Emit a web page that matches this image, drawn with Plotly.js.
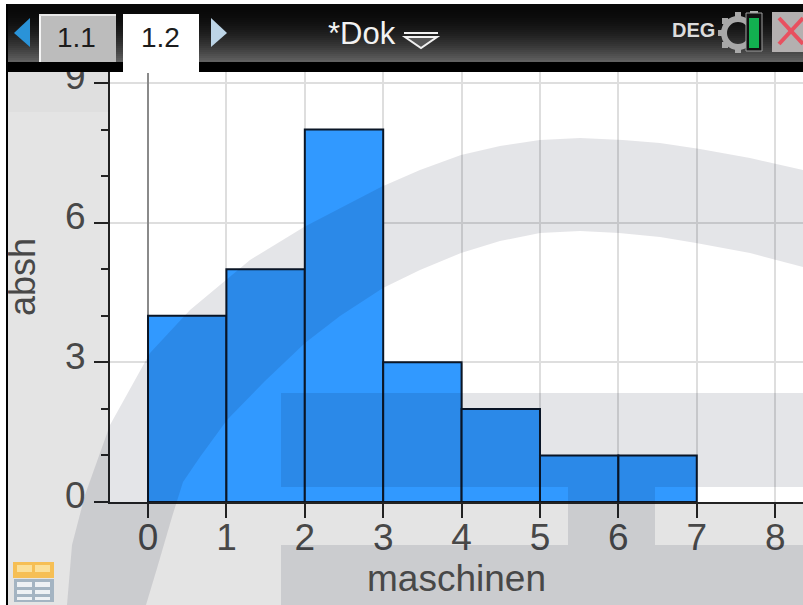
<!DOCTYPE html>
<html>
<head>
<meta charset="utf-8">
<script src="https://cdn.plot.ly/plotly-3.0.1.min.js"></script>
<style>html,body{margin:0;padding:0;background:#fff;overflow:hidden}#c{width:803px;height:605px}</style>
</head>
<body>
<div id="c"></div>
<script>
const binStarts = [0, 1, 2, 3, 4, 5, 6];
const counts = [4, 5, 8, 3, 2, 1, 1];
const xTickValues = [0, 1, 2, 3, 4, 5, 6, 7, 8];
const yTickValues = [0, 3, 6, 9];
const xTitle = 'maschinen';
const yTitle = '&nbsp;&nbsp;absh';

const W = 803, H = 605, L = 110, T = 72, B = 502, PW = W - L, PH = B - T;
const fx = x => (x - L) / PW;
const fy = y => (B - y) / PH;
const FONT = '"Liberation Sans", Arial, sans-serif';

function rect(x0, y0, x1, y1, fill, extra) {
  return Object.assign({type:'rect', xref:'paper', yref:'paper', layer:'above',
    x0:fx(x0), x1:fx(x1), y0:fy(y0), y1:fy(y1), fillcolor:fill, line:{width:0}}, extra||{});
}
function poly(pts, fill, line, close) {
  const d = pts.map((p,i)=>(i?'L':'M')+fx(p[0]).toFixed(5)+','+fy(p[1]).toFixed(5)).join(' ')+(close===false?'':' Z');
  return {type:'path', xref:'paper', yref:'paper', layer:'above', path:d,
    fillcolor:fill||'rgba(0,0,0,0)', line:line||{width:0}};
}
function circle(x0,y0,x1,y1,fill,line){
  return {type:'circle', xref:'paper', yref:'paper', layer:'above',
    x0:fx(x0),x1:fx(x1),y0:fy(y0),y1:fy(y1),fillcolor:fill,line:line};
}

// background watermark
const WM = 'rgba(0,12,40,0.105)';
const arcOuter = [[67,605],[72,545],[85,495],[110,425],[150,353],[190,310],[226,280],[250,260],[304,227],[381,187],[420,170],[461,155],[500,146],[540,140],[580,138],[623,140],[660,143],[700,149],[750,158],[803,170]];
const arcInner = [[803,267],[750,253],[696,243],[660,237],[619,233],[580,231],[540,233],[500,241],[461,253],[420,270],[383,288],[340,316],[305,343],[265,381],[227,420],[200,457],[183,482],[172,517],[158,565],[146,605]];
const watermark = [
  poly(arcOuter.concat(arcInner), WM),
  rect(281,393,803,487,WM),
  rect(568,487,655,545,WM),
  rect(281,545,803,605,WM)
];

// device chrome
const chrome = [];
chrome.push(rect(8,72,110,112,'rgba(0,0,0,0.02)'));
for (let y=4; y<62; y+=2) {
  const t=(y-4)/58, v=Math.round(8+t*t*95);
  chrome.push(rect(6,y,803,y+2,`rgb(${v},${v},${v})`));
}
chrome.push(rect(6,62,803,72,'#000'));
chrome.push(rect(0,0,803,4,'#fff'));
chrome.push(rect(0,0,6,605,'#fff'));
chrome.push(rect(6,4,8,605,'#000'));
chrome.push(rect(39,15,116,62,'#bcbcbc'));
chrome.push(rect(39,15,41,62,'#f4f4f4'));
chrome.push(rect(39,14,116,16,'#e8e8e8'));
chrome.push(rect(123,14,199,73,'#fff'));
chrome.push(poly([[30,18],[14,33],[30,47]],'#2a93d8'));
chrome.push(poly([[211,18],[227,33],[211,47]],'#bcd4e6'));
chrome.push(poly([[405,37],[437,37],[421,48]],'#555',{color:'#f0f0f0',width:2}));
chrome.push(rect(404,32,438,34,'#f0f0f0'));
// gear
chrome.push(circle(724,19,752,47,'rgba(0,0,0,0)',{color:'#a8a8a8',width:6}));
[[735,12,741,20],[735,46,741,53],[718,30,726,36],[722,18,728,24],[722,42,728,48]].forEach(r=>chrome.push(rect(r[0],r[1],r[2],r[3],'#a8a8a8')));
// battery
chrome.push(rect(750,11,758,14,'#b0b0b0'));
chrome.push(rect(746,13,762,51,'#111',{line:{color:'#a0a0a0',width:1}}));
chrome.push(rect(749,18,759,48,'#12b050'));
// close
chrome.push(rect(772,12,803,52,'#b4b0b0'));
chrome.push(poly([[779,18],[803,44]],null,{color:'#e8505f',width:4},false));
chrome.push(poly([[779,44],[803,18]],null,{color:'#e8505f',width:4},false));
// table icon
chrome.push(rect(13,562,54,578,'#f6bf55'));
chrome.push(rect(17,565,32,572,'#fbe09a'));
chrome.push(rect(35,565,50,572,'#fbe09a'));
chrome.push(rect(14,579,54,602,'#a4b4c2'));
[[17,582,32,587],[35,582,50,587],[17,590,32,594],[35,590,50,594],[17,597,32,600],[35,597,50,600]].forEach(r=>chrome.push(rect(r[0],r[1],r[2],r[3],'#eef1f4')));

function label(text,x,y,size,color,bold){
  return {xref:'paper',yref:'paper',x:fx(x),y:fy(y),xanchor:'center',yanchor:'middle',showarrow:false,
    text:bold?'<b>'+text+'</b>':text,font:{family:FONT,size:size,color:color}};
}
const annotations = [
  label('1.1',76,38,28,'#1c1c1c'),
  label('1.2',160,38,28,'#1c1c1c'),
  label('*Dok',362,34,31,'#f2f2f2'),
  label('DEG',693,30,20,'#dcdcdc',true)
];

const trace = {
  type:'bar', x:binStarts, y:counts, width:1, offset:0,
  marker:{color:'#3199ff', line:{color:'#0b1626', width:2}},
  hoverinfo:'skip'
};
// carries the y tick labels, which sit slightly above their tick marks in the reference
const labelAxisTrace = {type:'scatter', x:[0], y:[0], mode:'none', yaxis:'y2', hoverinfo:'skip'};

const YMAX = 9.235, LABEL_LIFT = 0.14;
const axisFont = {family:FONT, size:37, color:'#484848'};
const layout = {
  width:W, height:H, margin:{l:L, r:0, t:T, b:H-B, pad:0},
  paper_bgcolor:'#e4e4e4', plot_bgcolor:'#ffffff', showlegend:false,
  xaxis:{
    range:[-0.485,8.355], tickmode:'array', tickvals:xTickValues, ticktext:xTickValues.map(String),
    ticks:'outside', ticklen:14, tickwidth:2, tickcolor:'#222', ticklabelstandoff:-12,
    tickfont:axisFont, showgrid:true, gridcolor:'#dedede', gridwidth:2,
    zeroline:true, zerolinecolor:'#8a8a8a', zerolinewidth:2,
    showline:true, linecolor:'#222', linewidth:2,
    title:{text:xTitle, font:axisFont, standoff:0}
  },
  yaxis:{
    range:[0,YMAX], tickmode:'array', tickvals:yTickValues, ticktext:yTickValues.map(String),
    ticks:'outside', ticklen:14, tickwidth:2, tickcolor:'#222', showticklabels:false,
    minor:{dtick:1, tick0:0, ticks:'outside', ticklen:7, tickwidth:2, tickcolor:'#222', showgrid:false},
    showgrid:true, gridcolor:'#dedede', gridwidth:2,
    zeroline:false, showline:true, linecolor:'#222', linewidth:2,
    title:{text:yTitle, font:{family:FONT,size:36,color:'#484848'}, standoff:47}
  },
  yaxis2:{
    overlaying:'y', side:'left', anchor:'x',
    range:[-LABEL_LIFT,YMAX-LABEL_LIFT], tickmode:'array', tickvals:yTickValues, ticktext:yTickValues.map(String),
    ticks:'outside', ticklen:14, tickwidth:2, tickcolor:'rgba(0,0,0,0)', ticklabelstandoff:2,
    tickfont:axisFont, showgrid:false, zeroline:false, showline:false
  },
  shapes: watermark.concat(chrome),
  annotations: annotations
};
Plotly.newPlot('c',[trace,labelAxisTrace],layout,{displayModeBar:false,staticPlot:true});
</script>
</body>
</html>
